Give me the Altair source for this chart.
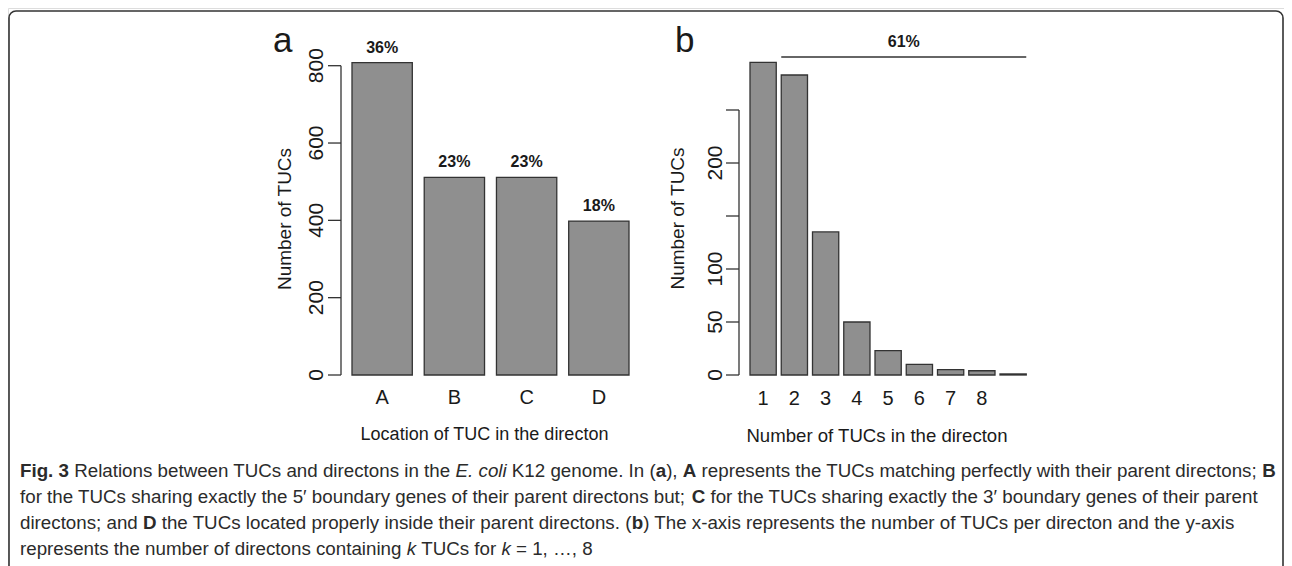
import altair as alt
import pandas as pd

# ---------------- data ----------------
loc_categories = ["A", "B", "C", "D"]
loc_counts = [808, 511, 511, 398]
loc_percent_labels = ["36%", "23%", "23%", "18%"]
loc_y_ticks = [0, 200, 400, 600, 800]
loc_y_tick_labels = ["0", "200", "400", "600", "800"]

num_categories = ["1", "2", "3", "4", "5", "6", "7", "8", "9"]
num_counts = [295, 283, 135, 50, 23, 10, 5, 4, 1]
num_tick_labels = ["1", "2", "3", "4", "5", "6", "7", "8", ""]
num_y_ticks = [0, 50, 100, 150, 200, 250]
num_y_tick_labels = ["0", "50", "100", "", "200", ""]

bracket_from = "2"
bracket_to = "9"
bracket_level = 300
bracket_label = "61%"

panel_letters = ["a", "b"]
title_a_y = "Number of TUCs"
title_a_x = "Location of TUC in the directon"
title_b_y = "Number of TUCs"
title_b_x = "Number of TUCs in the directon"

caption_lines = [
    [("Fig. 3", "b"), (" Relations between TUCs and directons in the ", "r"), ("E. coli", "i"),
     (" K12 genome. In (", "r"), ("a", "b"), ("), ", "r"), ("A", "b"),
     (" represents the TUCs matching perfectly with their parent directons; ", "r"), ("B", "b")],
    [("for the TUCs sharing exactly the 5\u2032 boundary genes of their parent directons but; ", "r"), ("C", "b"),
     (" for the TUCs sharing exactly the 3\u2032 boundary genes of their parent", "r")],
    [("directons; and ", "r"), ("D", "b"), (" the TUCs located properly inside their parent directons. (", "r"),
     ("b", "b"), (") The x-axis represents the number of TUCs per directon and the y-axis", "r")],
    [("represents the number of directons containing ", "r"), ("k", "i"), (" TUCs for ", "r"), ("k", "i"),
     (" = 1, \u2026, 8", "r")],
]

# ---------------- layout / style ----------------
W, H = 1276, 558
FONT = "Liberation Sans"
INK = "#1a1a1a"
LINE = "#333333"
BAR_FILL = "#8f8f8f"

# Helvetica / Liberation Sans advance widths (1/1000 em)
REG = {" ": 278, "(": 333, ")": 333, ",": 278, "-": 333, ".": 278, ";": 278, "=": 584,
       "1": 556, "2": 556, "3": 556, "5": 556, "8": 556, "\u2032": 250, "\u2026": 1000,
       "A": 667, "B": 667, "C": 722, "D": 722, "E": 667, "F": 611, "I": 278, "K": 667,
       "R": 722, "T": 611, "U": 722,
       "a": 556, "b": 556, "c": 500, "d": 556, "e": 556, "f": 278, "g": 556, "h": 556,
       "i": 222, "k": 500, "l": 222, "m": 833, "n": 556, "o": 556, "p": 556, "r": 333,
       "s": 500, "t": 278, "u": 556, "v": 500, "w": 722, "x": 500, "y": 500}
BOLD = {" ": 278, ".": 278, "3": 556, "F": 611, "i": 278, "g": 611, "a": 556, "b": 611,
        "A": 722, "B": 722, "C": 722, "D": 722}
CAP_SIZE = 18.75
CAP_X0, CAP_Y0, CAP_DY = 12, 469, 26


def seg_w(s, style):
    tbl = BOLD if style == "b" else REG
    return sum(tbl.get(ch, 556) for ch in s) * CAP_SIZE / 1000.0


rows = []
for li, line in enumerate(caption_lines):
    x = CAP_X0
    for text, style in line:
        lead = len(text) - len(text.lstrip(" "))
        rows.append({"text": text.strip(), "x": x + lead * REG[" "] * CAP_SIZE / 1000.0,
                     "y": CAP_Y0 + li * CAP_DY, "style": style})
        x += seg_w(text, style)
cap_df = pd.DataFrame(rows)


def cap_layer(style, weight, font_style):
    return alt.Chart(cap_df[cap_df["style"] == style]).mark_text(
        align="left", baseline="alphabetic", font=FONT, fontSize=CAP_SIZE,
        fontWeight=weight, fontStyle=font_style, color="#2b2b2b"
    ).encode(x=alt.X("x:Q", scale=None), y=alt.Y("y:Q", scale=None), text="text:N")


captions = [cap_layer("r", "normal", "normal"), cap_layer("b", "bold", "normal"),
            cap_layer("i", "normal", "italic")]

one = pd.DataFrame({"k": [0]})

frame = alt.Chart(one).mark_rect(
    fillOpacity=0, stroke=LINE, strokeWidth=1.6, cornerRadius=7
).encode(x=alt.value(1), x2=alt.value(1275), y=alt.value(3), y2=alt.value(640))

letters_df = pd.DataFrame({"t": panel_letters, "px": [265, 667], "py": [44, 44]})
letters = alt.Chart(letters_df).mark_text(
    align="left", baseline="alphabetic", font=FONT, fontSize=35, color=INK
).encode(x=alt.X("px:Q", scale=None), y=alt.Y("py:Q", scale=None), text="t:N")


def text_at(label, px, py, size, angle=0):
    return alt.Chart(pd.DataFrame({"t": [label]})).mark_text(
        font=FONT, fontSize=size, color=INK, angle=angle, align="center", baseline="middle"
    ).encode(x=alt.value(px), y=alt.value(py), text="t:N")


def y_axis(ticks, labels, scale, axis_x, tick_len, pad, title, title_x, title_y):
    tdf = pd.DataFrame({"v": ticks, "lab": labels})
    dom = alt.Chart(pd.DataFrame({"lo": [min(ticks)], "hi": [max(ticks)]})).mark_rule(
        color=LINE, strokeWidth=1.3).encode(
        x=alt.value(axis_x), y=alt.Y("lo:Q", scale=scale, axis=None), y2="hi:Q")
    tk = alt.Chart(tdf).mark_rule(color=LINE, strokeWidth=1.3).encode(
        x=alt.value(axis_x - tick_len), x2=alt.value(axis_x),
        y=alt.Y("v:Q", scale=scale, axis=None))
    lb = alt.Chart(tdf[tdf["lab"] != ""]).mark_text(
        font=FONT, fontSize=21, color=INK, angle=270, align="center", baseline="alphabetic"
    ).encode(x=alt.value(axis_x - tick_len - pad), y=alt.Y("v:Q", scale=scale, axis=None),
             text="lab:N")
    tt = text_at(title, title_x, title_y, 19, angle=270)
    return [dom, tk, lb, tt]


# ---------------- panel a ----------------
df_a = pd.DataFrame({"cat": loc_categories, "count": loc_counts, "pct": loc_percent_labels})
sx_a = alt.Scale(domain=loc_categories, range=[338, 627], paddingInner=0.165, paddingOuter=0.083)
sy_a = alt.Scale(domain=[0, 800], range=[367, 57.7], nice=False, zero=False)

bars_a = alt.Chart(df_a).mark_bar(fill=BAR_FILL, stroke=LINE, strokeWidth=1.3).encode(
    x=alt.X("cat:N", scale=sx_a, axis=None, sort=loc_categories),
    y=alt.Y("count:Q", scale=sy_a, axis=None),
)
pct_a = alt.Chart(df_a).mark_text(dy=-15, baseline="middle", font=FONT, fontSize=16,
                                  fontWeight="bold", color=INK).encode(
    x=alt.X("cat:N", scale=sx_a, axis=None, sort=loc_categories),
    y=alt.Y("count:Q", scale=sy_a, axis=None),
    text="pct:N",
)
xlab_a = alt.Chart(df_a).mark_text(baseline="middle", font=FONT, fontSize=20, color=INK).encode(
    x=alt.X("cat:N", scale=sx_a, axis=None, sort=loc_categories),
    y=alt.value(390), text="cat:N")
panel_a = alt.layer(
    bars_a, pct_a, xlab_a,
    *y_axis(loc_y_ticks, loc_y_tick_labels, sy_a, 333, 13, 5.5, title_a_y, 277, 211),
    text_at(title_a_x, 476.5, 427, 18),
)

# ---------------- panel b ----------------
df_b = pd.DataFrame({"cat": num_categories, "count": num_counts, "lab": num_tick_labels})
sx_b = alt.Scale(domain=num_categories, range=[739.5, 1020.75], paddingInner=0.16, paddingOuter=0.08)
sy_b = alt.Scale(domain=[0, 250], range=[367, 102], nice=False, zero=False)

bars_b = alt.Chart(df_b).mark_bar(fill=BAR_FILL, stroke=LINE, strokeWidth=1.3).encode(
    x=alt.X("cat:N", scale=sx_b, axis=None, sort=num_categories),
    y=alt.Y("count:Q", scale=sy_b, axis=None),
)
xlab_b = alt.Chart(df_b[df_b["lab"] != ""]).mark_text(
    baseline="middle", font=FONT, fontSize=20, color=INK).encode(
    x=alt.X("cat:N", scale=sx_b, axis=None, sort=num_categories),
    y=alt.value(391), text="lab:N")

i0 = num_categories.index(bracket_from)
i1 = num_categories.index(bracket_to)
mid_cat = num_categories[(i0 + i1) // 2]
br_df = pd.DataFrame({"start": [bracket_from], "end": [bracket_to], "mid": [mid_cat],
                      "level": [bracket_level], "label": [bracket_label]})
bracket = alt.Chart(br_df).mark_rule(color=LINE, strokeWidth=1.3).encode(
    x=alt.X("start:N", scale=sx_b, axis=None, bandPosition=0),
    x2=alt.X2("end", bandPosition=1),
    y=alt.Y("level:Q", scale=sy_b, axis=None),
)
bracket_txt = alt.Chart(br_df).mark_text(dy=-15, dx=2.5, baseline="middle", font=FONT,
                                         fontSize=16, fontWeight="bold", color=INK).encode(
    x=alt.X("mid:N", scale=sx_b, axis=None, bandPosition=1),
    y=alt.Y("level:Q", scale=sy_b, axis=None),
    text="label:N",
)
panel_b = alt.layer(
    bars_b, xlab_b, bracket, bracket_txt,
    *y_axis(num_y_ticks, num_y_tick_labels, sy_b, 731, 13, 4, title_b_y, 670, 210.5),
    text_at(title_b_x, 869, 428, 18.6),
)

chart = alt.layer(frame, letters, *captions, panel_a, panel_b).resolve_scale(
    x="independent", y="independent"
).properties(
    width=W, height=H, autosize=alt.AutoSizeParams(type="none"), padding=0
).configure_view(strokeWidth=0).configure(font=FONT)

chart.save("out.html", embed_options={"renderer": "svg", "actions": False})
